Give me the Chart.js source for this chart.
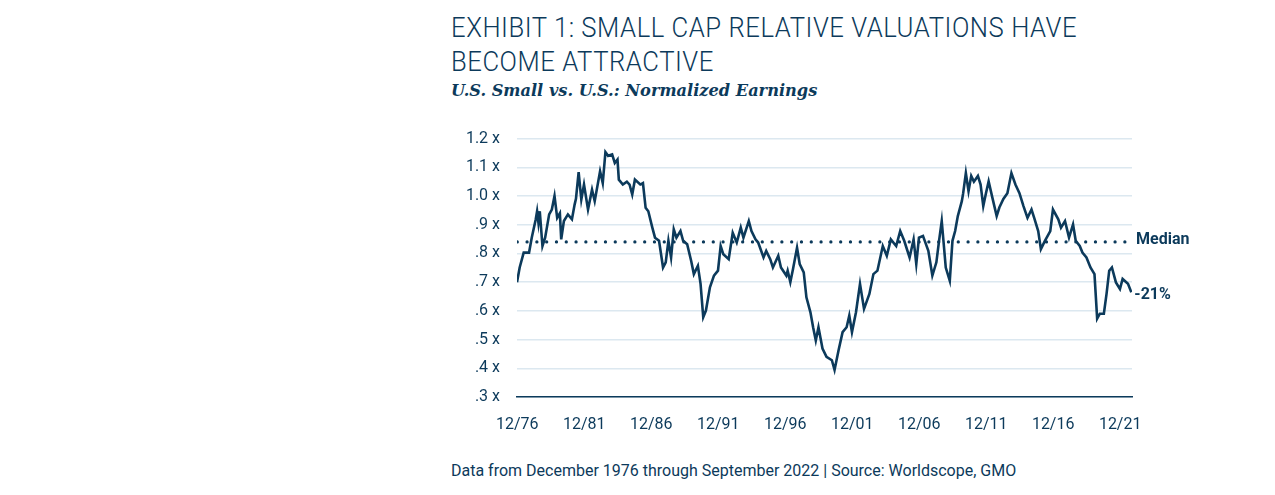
<!DOCTYPE html>
<html>
<head>
<meta charset="utf-8">
<script src="https://cdn.jsdelivr.net/npm/chart.js@4"></script>
<style>
  body { margin: 0; background: #fff; width: 1275px; height: 495px; position: relative; overflow: hidden; font-family: Roboto, sans-serif; color: #0c3a5b; }
  #titulo { position: absolute; left: 451px; top: 11px; font-size: 28.5px; font-weight: 300; line-height: 34px; letter-spacing: 0.6px; transform: scaleX(0.9); transform-origin: left top; white-space: nowrap; }
  #sub { position: absolute; left: 451px; top: 81px; font-family: "DejaVu Serif", serif; font-style: italic; font-weight: bold; font-size: 16.2px; }
  #fonte { position: absolute; left: 451px; top: 461px; font-size: 16px; }
  #box { position: absolute; left: 440px; top: 112px; width: 780px; height: 328px; }
</style>
</head>
<body>
<div id="titulo">EXHIBIT 1: SMALL CAP RELATIVE VALUATIONS HAVE<br>BECOME ATTRACTIVE</div>
<div id="sub">U.S. Small vs. U.S.: Normalized Earnings</div>
<div id="box"><canvas id="grafico"></canvas></div>
<div id="fonte">Data from December 1976 through September 2022 | Source: Worldscope, GMO</div>
<script>
const anos = [1976.9,1977.1,1977.4,1977.8,1978.0,1978.3,1978.4,1978.5,1978.6,1978.8,1979.0,1979.3,1979.5,1979.7,1979.9,1980.1,1980.2,1980.4,1980.7,1981.0,1981.2,1981.3,1981.5,1981.7,1981.9,1982.2,1982.5,1982.7,1983.1,1983.3,1983.5,1983.7,1984.0,1984.2,1984.4,1984.5,1984.8,1985.1,1985.3,1985.5,1985.7,1986.1,1986.3,1986.5,1986.7,1987.0,1987.2,1987.5,1987.8,1988.0,1988.2,1988.4,1988.6,1988.8,1989.1,1989.3,1989.6,1989.9,1990.1,1990.4,1990.6,1990.8,1991.0,1991.3,1991.6,1991.9,1992.1,1992.3,1992.7,1993.0,1993.3,1993.6,1993.8,1994.2,1994.4,1994.7,1994.9,1995.3,1995.5,1995.8,1996.0,1996.4,1996.6,1997.0,1997.1,1997.3,1997.5,1997.8,1998.0,1998.3,1998.5,1998.8,1999.0,1999.2,1999.4,1999.7,2000.0,2000.4,2000.6,2000.9,2001.2,2001.5,2001.7,2001.9,2002.2,2002.5,2002.8,2003.2,2003.5,2003.8,2004.2,2004.5,2004.8,2005.2,2005.5,2005.8,2006.2,2006.5,2006.7,2006.9,2007.2,2007.6,2007.9,2008.2,2008.4,2008.6,2008.9,2009.2,2009.4,2009.6,2009.8,2010.1,2010.2,2010.4,2010.6,2010.8,2011.0,2011.3,2011.5,2011.7,2011.9,2012.1,2012.4,2012.7,2012.9,2013.2,2013.5,2013.8,2014.1,2014.4,2014.7,2015.0,2015.3,2015.5,2015.8,2016.0,2016.3,2016.7,2016.9,2017.3,2017.5,2017.8,2018.1,2018.4,2018.6,2018.9,2019.1,2019.4,2019.7,2020.0,2020.2,2020.4,2020.7,2020.9,2021.1,2021.3,2021.6,2021.9,2022.1,2022.5,2022.75];
const relativo = [.70,.751,.803,.803,.855,.919,.947,.907,.947,.826,.855,.936,.953,1.0,.924,.94,.849,.913,.936,.919,.97,.99,1.083,.988,1.04,.953,1.022,.982,1.086,1.045,1.153,1.14,1.145,1.115,1.127,1.057,1.04,1.05,1.04,1.005,1.057,1.04,1.045,.959,.947,.89,.855,.844,.751,.769,.844,.786,.884,.855,.878,.844,.832,.774,.728,.757,.694,.578,.601,.682,.723,.74,.826,.797,.78,.872,.838,.89,.855,.913,.878,.849,.838,.786,.809,.78,.751,.792,.751,.723,.74,.70,.746,.82,.763,.734,.647,.595,.543,.497,.543,.469,.44,.428,.394,.463,.526,.543,.584,.526,.595,.694,.607,.659,.728,.74,.826,.792,.849,.826,.878,.844,.786,.849,.763,.855,.861,.809,.723,.769,.844,.913,.751,.705,.844,.878,.93,.982,1.01,1.08,1.017,1.07,1.05,1.07,1.04,.965,1.01,1.051,.99,.93,.96,.99,1.01,1.08,1.04,1.01,.965,.924,.953,.924,.878,.815,.844,.878,.953,.919,.89,.913,.855,.901,.844,.826,.803,.786,.751,.728,.573,.59,.59,.659,.74,.751,.699,.676,.711,.694,.665];
const mediana = 0.84;
const ticksX = [1976.917,1981.917,1986.917,1991.917,1996.917,2001.917,2006.917,2011.917,2016.917,2021.917];
const rotulosX = ['12/76','12/81','12/86','12/91','12/96','12/01','12/06','12/11','12/16','12/21'];
const rotulosY = { '1.2': '1.2 x', '1.1': '1.1 x', '1': '1.0 x', '0.9': '.9 x', '0.8': '.8 x', '0.7': '.7 x', '0.6': '.6 x', '0.5': '.5 x', '0.4': '.4 x', '0.3': '.3 x' };
const azul = '#0c3a5b';

const rotulosDireita = {
  id: 'rotulosDireita',
  afterDatasetsDraw(c) {
    const ctx = c.ctx, y = c.scales.y, x = c.scales.x;
    ctx.save();
    ctx.fillStyle = azul;
    ctx.font = 'bold 16px Roboto';
    ctx.textBaseline = 'middle';
    ctx.fillText('Median', c.chartArea.right + 4, y.getPixelForValue(mediana) - 2);
    ctx.fillText('-21%', x.getPixelForValue(anos[anos.length - 1]) + 3, y.getPixelForValue(relativo[relativo.length - 1]) + 3);
    ctx.restore();
  }
};

new Chart(document.getElementById('grafico').getContext('2d'), {
  type: 'line',
  data: {
    datasets: [{
      data: anos.map((a, i) => ({ x: a, y: relativo[i] })),
      borderColor: azul,
      borderWidth: 2.6,
      pointRadius: 0,
      tension: 0,
      fill: false
    }, {
      data: [{ x: 1976.917, y: mediana }, { x: 2022.8, y: mediana }],
      borderColor: azul,
      borderWidth: 3.2,
      borderDash: [0.1, 9.7],
      borderCapStyle: 'round',
      pointRadius: 0,
      fill: false
    }]
  },
  plugins: [rotulosDireita],
  options: {
    responsive: true,
    maintainAspectRatio: false,
    animation: false,
    layout: { padding: { top: 4, right: 88, left: 0, bottom: 0 } },
    plugins: { legend: { display: false }, tooltip: { enabled: false } },
    scales: {
      x: {
        type: 'linear',
        min: 1976.9,
        max: 2022.8,
        afterBuildTicks: s => { s.ticks = ticksX.map(v => ({ value: v })); },
        afterFit: s => { s.height = 43; },
        grid: { display: false, drawTicks: false },
        border: { color: azul, width: 1.5 },
        ticks: {
          padding: 18,
          color: azul,
          font: { family: 'Roboto', size: 16 },
          maxRotation: 0,
          callback: (v, i) => rotulosX[i]
        }
      },
      y: {
        min: 0.3,
        max: 1.2,
        afterBuildTicks: s => { s.ticks = [1.2,1.1,1,0.9,0.8,0.7,0.6,0.5,0.4,0.3].map(v => ({ value: v })); },
        afterFit: s => { s.width = 77; },
        grid: { color: '#dce8f0', lineWidth: 1.5, drawTicks: false },
        border: { display: false },
        ticks: {
          padding: 17,
          color: azul,
          font: { family: 'Roboto', size: 16 },
          callback: v => rotulosY[String(Math.round(v * 10) / 10)]
        }
      }
    }
  }
});
</script>
</body>
</html>
